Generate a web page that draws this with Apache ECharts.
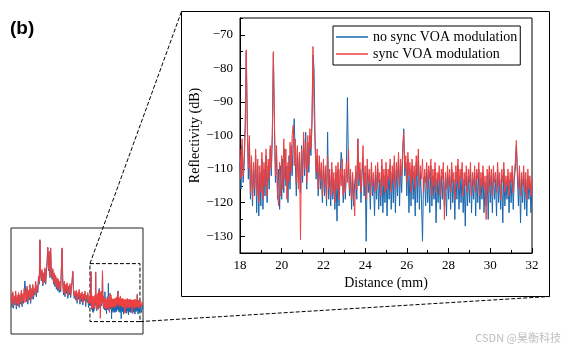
<!DOCTYPE html>
<html>
<head>
<meta charset="utf-8">
<script src="https://cdn.jsdelivr.net/npm/echarts@6/dist/echarts.min.js"></script>
<style>
html, body { margin: 0; padding: 0; background: #fff; }
#chart { width: 567px; height: 349px; }
</style>
</head>
<body>
<div id="chart"></div>
<script>
// Reflectivity traces, sampled every 0.05 mm from 18 mm to 32 mm (dB)
const zoomStart = 18;
const zoomStep = 0.05;

const noSyncZoom = [
  -108,-116,-103,-114,-109,-98,-75,-97,-113,-102,-119,-108,-121,-110,-118,-106,-123,-109,-124,-111,
  -121,-107,-122,-110,-118,-106,-120,-109,-116,-104,-112,-100,-75.5,-97,-114,-105,-119,-110,-122,-109,
  -119,-107,-117,-104,-115,-109,-120,-106,-116,-103,-112,-101,-95,-108,-118,-104,-114,-106,-117,-103,
  -114,-101,-112,-99,-116,-102,-111,-100,-106,-97,-76,-80,-101,-113,-106,-118,-108,-116,-110,-120,
  -109,-118,-111,-121,-99,-119,-112,-121,-110,-119,-113,-122,-111,-125.5,-110,-121,-112,-105,-109,-120,
  -112,-119,-110,-88.7,-109,-118,-112,-122,-113,-121,-114,-111,-119,-101,-115,-110,-120,-112,-107,-118,
  -111,-131.5,-109,-117,-112,-122,-110,-118,-113,-124,-111,-119,-110,-122,-113,-121,-109,-123,-112,-120,
  -110,-124,-112,-119,-109,-122,-111,-120,-108,-123,-110,-118,-107,-121,-109,-117,-106,-98,-112,-108,
  -118,-107,-123,-110,-121,-109,-119,-111,-124,-108,-120,-106,-122,-111,-119,-131.5,-113,-112,-121,-110,
  -120,-111,-123,-109,-121,-112,-119,-110,-126,-113,-120,-111,-122,-112,-119,-110,-121,-113,-124,-111,
  -119,-112,-122,-110,-120,-113,-125,-111,-119,-109,-122,-112,-120,-110,-123,-113,-127,-111,-121,-112,
  -120,-110,-123,-113,-119,-111,-124,-112,-120,-110,-122,-113,-119,-111,-123,-114,-121,-112,-125,-111,
  -120,-112,-123,-111,-119,-113,-124,-110,-120,-113,-122,-112,-126,-110,-121,-114,-119,-112,-123,-113,
  -120,-111,-122,-113,-110,-103,-112,-121,-111,-126,-113,-120,-111,-122,-113,-124,-112,-119,-114,-123,
  -115
];

const syncZoom = [
  -104,-113,-101,-112,-106,-97,-74.5,-96,-110,-100,-117,-106,-119,-108,-116,-104,-118,-107,-120,-109,
  -117,-105,-119,-108,-115,-104,-118,-107,-113,-103,-110,-99,-75,-95,-112,-103,-117,-121,-108,-118,
  -106,-116,-101,-113,-104,-119,-108,-114,-102,-111,-100,-97,-109,-101,-114,-103,-116,-105,-131,-104,
  -112,-99,-110,-102,-114,-100,-109,-98,-104,-95,-73.5,-92,-103,-111,-104,-116,-106,-113,-108,-118,
  -107,-115,-109,-119,-106,-116,-110,-118,-108,-117,-111,-120,-109,-116,-108,-119,-110,-115,-107,-118,
  -110,-117,-108,-114,-104,-116,-110,-119,-111,-118,-124,-109,-116,-101,-113,-108,-117,-110,-103,-115,
  -109,-119,-107,-114,-110,-118,-108,-115,-111,-117,-109,-116,-108,-114,-111,-118,-107,-115,-110,-117,
  -108,-116,-110,-113,-107,-117,-109,-114,-106,-116,-108,-113,-105,-115,-107,-112,-104,-99,-110,-106,
  -114,-105,-112,-108,-117,-107,-113,-109,-116,-106,-112,-104,-115,-109,-113,-107,-117,-110,-114,-108,
  -116,-109,-113,-107,-118,-110,-115,-108,-117,-111,-114,-109,-118,-110,-113,-108,-125,-111,-116,-109,
  -115,-110,-117,-108,-114,-111,-119,-109,-114,-107,-116,-110,-113,-108,-118,-111,-115,-109,-117,-110,
  -114,-108,-118,-111,-115,-109,-117,-110,-113,-108,-118,-111,-115,-109,-116,-112,-125,-110,-117,-109,
  -115,-110,-118,-109,-114,-111,-117,-108,-115,-111,-119,-110,-114,-108,-117,-112,-115,-110,-118,-111,
  -114,-109,-117,-111,-108,-101.5,-110,-116,-109,-118,-111,-115,-109,-117,-111,-119,-110,-116,-112,-118,
  -113
];

// Full-length overview: section before 18 mm, sampled every 0.2 mm from -4 mm
const leadStart = -4;
const leadStep = 0.2;

const noSyncLead = [
  -106,-118,-101,-119,-107,-115,-100,-120,-106,-116,
  -102,-118,-104,-114,-99,-117,-103,-113,-98,-86,
  -100,-111,-94,-114,-99,-109,-92,-113,-97,-108,
  -92,-108,-97,-103,-88,-105,-93,-100,-82,-90,
  -37,-80,-86,-74,-92,-78,-88,-72,-90,-76,
  -64,-46,-74,-51,-82,-47,-77,-84,-73,-90,
  -78,-93,-81,-96,-84,-98,-86,-100,-88,-99,
  -72,-47,-90,-103,-88,-105,-92,-101,-90,-107,
  -94,-103,-91,-106,-96,-87,-75,-99,-107,-101,
  -109,-99,-113,-102,-108,-98,-114,-103,-111,-101,
  -115,-104,-110,-100,-117,-105,-112,-102,-118,-107
];

const syncLead = [
  -102,-114,-99,-116,-104,-112,-98,-117,-103,-113,
  -100,-115,-102,-111,-97,-114,-101,-110,-95,-112,
  -98,-108,-92,-111,-97,-106,-90,-110,-95,-105,
  -90,-105,-95,-100,-86,-102,-91,-97,-80,-88,
  -36,-78,-84,-72,-90,-76,-86,-70,-88,-74,
  -62,-45,-72,-50,-80,-46,-75,-82,-71,-88,
  -76,-90,-79,-93,-82,-95,-84,-97,-86,-96,
  -70,-46,-88,-100,-86,-102,-90,-98,-88,-104,
  -92,-100,-89,-103,-94,-85,-74,-96,-104,-98,
  -107,-97,-110,-100,-105,-96,-111,-101,-108,-99,
  -112,-102,-107,-98,-113,-103,-109,-100,-114,-105
];

// Overview section past 32 mm, every 0.2 mm from 32.2 mm
const tailStart = 32.2;
const tailStep = 0.2;
const noSyncTail = [-114, -124, -115, -120];
const syncTail = [-110, -117, -112, -115];

// Axis ticks
const yMajorTicks = [-130, -120, -110, -100, -90, -80, -70];
const yMinorTicks = [-135, -125, -115, -105, -95, -85, -75, -65];

const names = ['no sync VOA modulation', 'sync VOA modulation'];
const blue = '#1866ae';
const red = '#ef4040';
const serif = 'Liberation Serif';

function toPairs(values, start, step) {
  return values.map((v, i) => [Math.round((start + i * step) * 1000) / 1000, v]);
}

const noSyncZoomPts = toPairs(noSyncZoom, zoomStart, zoomStep);
const syncZoomPts = toPairs(syncZoom, zoomStart, zoomStep);
const noSyncAll = toPairs(noSyncLead, leadStart, leadStep)
  .concat(noSyncZoomPts, toPairs(noSyncTail, tailStart, tailStep));
const syncAll = toPairs(syncLead, leadStart, leadStep)
  .concat(syncZoomPts, toPairs(syncTail, tailStart, tailStep));

const minus = v => String(v).replace('-', '\u2212');

const chart = echarts.init(document.getElementById('chart'), null, { renderer: 'canvas' });

chart.setOption({
  animation: false,
  backgroundColor: '#fff',
  grid: [
    { left: 240, top: 18, width: 292, height: 235, show: true, borderColor: '#000', borderWidth: 1, outerBoundsMode: 'none' },
    { left: 11, top: 228, width: 132, height: 106, show: true, borderColor: '#222', borderWidth: 1, outerBoundsMode: 'none' }
  ],
  legend: {
    data: names.map(n => ({ name: n, icon: 'rect' })),
    orient: 'vertical',
    left: 333,
    top: 26,
    itemWidth: 32,
    itemHeight: 1.5,
    itemGap: 1,
    padding: [3, 3, 3, 3],
    borderColor: '#000',
    borderWidth: 1,
    borderRadius: 0,
    backgroundColor: '#fff',
    selectedMode: false,
    textStyle: { fontFamily: serif, fontSize: 14, lineHeight: 16, color: '#000' }
  },
  xAxis: [
    {
      type: 'value', gridIndex: 0, min: 18, max: 32, interval: 2,
      name: 'Distance (mm)', nameLocation: 'middle', nameGap: 23, nameMoveOverlap: false,
      nameTextStyle: { fontFamily: serif, fontSize: 14, color: '#000' },
      axisLine: { show: true, onZero: false, lineStyle: { color: '#000', width: 1 } },
      axisTick: { show: true, inside: true, length: 5, lineStyle: { color: '#000' } },
      minorTick: { show: true, splitNumber: 2, length: 3, lineStyle: { color: '#000' } },
      axisLabel: { fontFamily: serif, fontSize: 13, color: '#000', margin: 6 },
      splitLine: { show: false }
    },
    {
      type: 'value', gridIndex: 1, min: -4.1, max: 32.85, show: false
    }
  ],
  yAxis: [
    {
      type: 'value', gridIndex: 0, min: -135, max: -65,
      name: 'Reflectivity (dB)', nameLocation: 'middle', nameGap: 38, nameMoveOverlap: false,
      nameTextStyle: { fontFamily: serif, fontSize: 14, color: '#000' },
      axisLine: { show: true, onZero: false, lineStyle: { color: '#000', width: 1 } },
      axisTick: { show: true, inside: true, length: 5, customValues: yMajorTicks, lineStyle: { color: '#000' } },
      axisLabel: { fontFamily: serif, fontSize: 13, color: '#000', margin: 7, customValues: yMajorTicks, formatter: minus },
      splitLine: { show: false }
    },
    {
      type: 'value', gridIndex: 0, min: -135, max: -65, position: 'left',
      axisLine: { show: false },
      axisTick: { show: true, inside: true, length: 3, customValues: yMinorTicks, lineStyle: { color: '#000' } },
      axisLabel: { show: false },
      splitLine: { show: false }
    },
    {
      type: 'value', gridIndex: 1, min: -150, max: -22, show: false
    }
  ],
  series: [
    {
      name: names[0], type: 'line', xAxisIndex: 0, yAxisIndex: 0, data: noSyncZoomPts,
      symbol: 'none', lineStyle: { color: blue, width: 1 }, itemStyle: { color: blue }, silent: true, z: 2
    },
    {
      name: names[1], type: 'line', xAxisIndex: 0, yAxisIndex: 0, data: syncZoomPts,
      symbol: 'none', lineStyle: { color: red, width: 1 }, itemStyle: { color: red }, silent: true, z: 3
    },
    {
      name: names[0], type: 'line', xAxisIndex: 1, yAxisIndex: 2, data: noSyncAll,
      symbol: 'none', lineStyle: { color: blue, width: 1 }, itemStyle: { color: blue }, silent: true, z: 2
    },
    {
      name: names[1], type: 'line', xAxisIndex: 1, yAxisIndex: 2, data: syncAll,
      symbol: 'none', lineStyle: { color: red, width: 1 }, itemStyle: { color: red }, silent: true, z: 3
    },
    {
      // dashed box marking the magnified 18–32 mm window on the overview
      name: 'window', type: 'line', xAxisIndex: 1, yAxisIndex: 2, data: [], silent: true, z: 10,
      markArea: {
        silent: true,
        itemStyle: { color: 'rgba(0,0,0,0)', borderColor: '#000', borderWidth: 1, borderType: [4, 2] },
        data: [[{ xAxis: 18, yAxis: -65 }, { xAxis: 32, yAxis: -135 }]]
      }
    }
  ]
});

// Frame around the magnified panel and the dashed connectors to the overview window
const frame = { x: 181.5, y: 11.5, w: 368, h: 285 };
const winTL = chart.convertToPixel({ gridIndex: 1 }, [18, -65]);
const winBR = chart.convertToPixel({ gridIndex: 1 }, [32, -135]);
const dash = { stroke: '#000', lineWidth: 1, lineDash: [4, 2] };

chart.setOption({
  graphic: [
    { type: 'rect', shape: { x: frame.x, y: frame.y, width: frame.w, height: frame.h },
      style: { fill: 'none', stroke: '#000', lineWidth: 1 }, silent: true, z: 0 },
    { type: 'line', shape: { x1: winTL[0], y1: winTL[1], x2: frame.x, y2: frame.y }, style: dash, silent: true },
    { type: 'line', shape: { x1: winBR[0], y1: winBR[1], x2: frame.x + frame.w, y2: frame.y + frame.h }, style: dash, silent: true },
    { type: 'text', left: 10, top: 19, silent: true,
      style: { text: '(b)', font: 'bold 19px "Liberation Sans", Arial, sans-serif', fill: '#000' } },
    { type: 'text', right: 6, top: 332, silent: true,
      style: { text: 'CSDN @昊衡科技', font: '11px "Noto Sans CJK SC", sans-serif', fill: '#bdbdbd' } }
  ]
});
</script>
</body>
</html>
